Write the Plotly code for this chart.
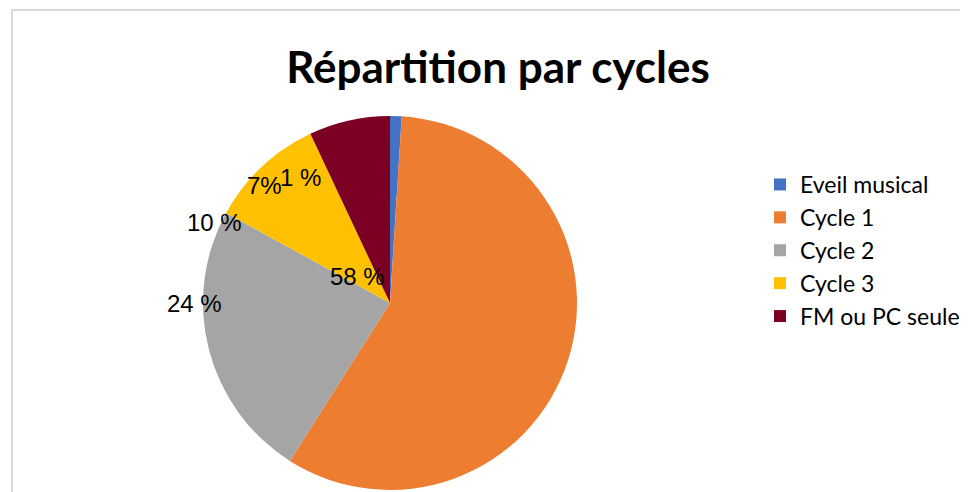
# Imports.
import plotly.graph_objects as go

# Data.
categories = ['Eveil musical', 'Cycle 1', 'Cycle 2', 'Cycle 3', 'FM ou PC seule']
shares = [1, 58, 24, 10, 7]
label_texts = ['1 %', '58 %', '24 %', '10 %', '7%']
colors = ['#4472C4', '#ED7D31', '#A5A5A5', '#FFC000', '#7B0024']

# Where Excel dropped the data labels (screen px, page has an 8px body margin).
label_pos = [(300, 177), (357, 276), (194, 303), (214, 222), (264, 185)]

W, H = 968, 492
OFF = 8  # body margin of the html page


def px(x):
    return (x - OFF) / W


def py(y):
    return 1 - (y - OFF) / H


# Create figure.
fig = go.Figure()
fig.add_trace(go.Pie(labels=categories, values=shares, sort=False, direction='clockwise', rotation=0,
                     marker=dict(colors=colors, line=dict(width=0)), textinfo='none', hoverinfo='label+percent',
                     domain=dict(x=[px(202), px(578)], y=[py(490), py(116)])))

# Data labels.
for txt, (lx, ly) in zip(label_texts, label_pos):
    fig.add_annotation(x=px(lx), y=py(ly), xref='paper', yref='paper', text=txt, showarrow=False,
                       xanchor='center', yanchor='middle',
                       font=dict(family='Liberation Sans, Arial', size=24, color='#000000'))

# Chart frame.
fig.add_shape(type='rect', xref='paper', yref='paper', x0=px(12), x1=1.05, y0=-0.05, y1=py(10),
              line=dict(color='#D9D9D9', width=2), fillcolor='rgba(0,0,0,0)')

fig.update_layout(width=W, height=H, margin=dict(l=0, r=0, t=0, b=0), paper_bgcolor='white',
                  title=dict(text='<b>Répartition par cycles</b>', x=px(498), xanchor='center', y=py(68),
                             yanchor='middle', font=dict(family='Lato, Calibri', size=44, color='#000000')),
                  legend=dict(x=px(760), y=py(163), xanchor='left', yanchor='top', traceorder='normal',
                              font=dict(family='Lato, Calibri', size=23, color='#000000'),
                              bgcolor='rgba(0,0,0,0)'))

fig.write_html("out.html")
